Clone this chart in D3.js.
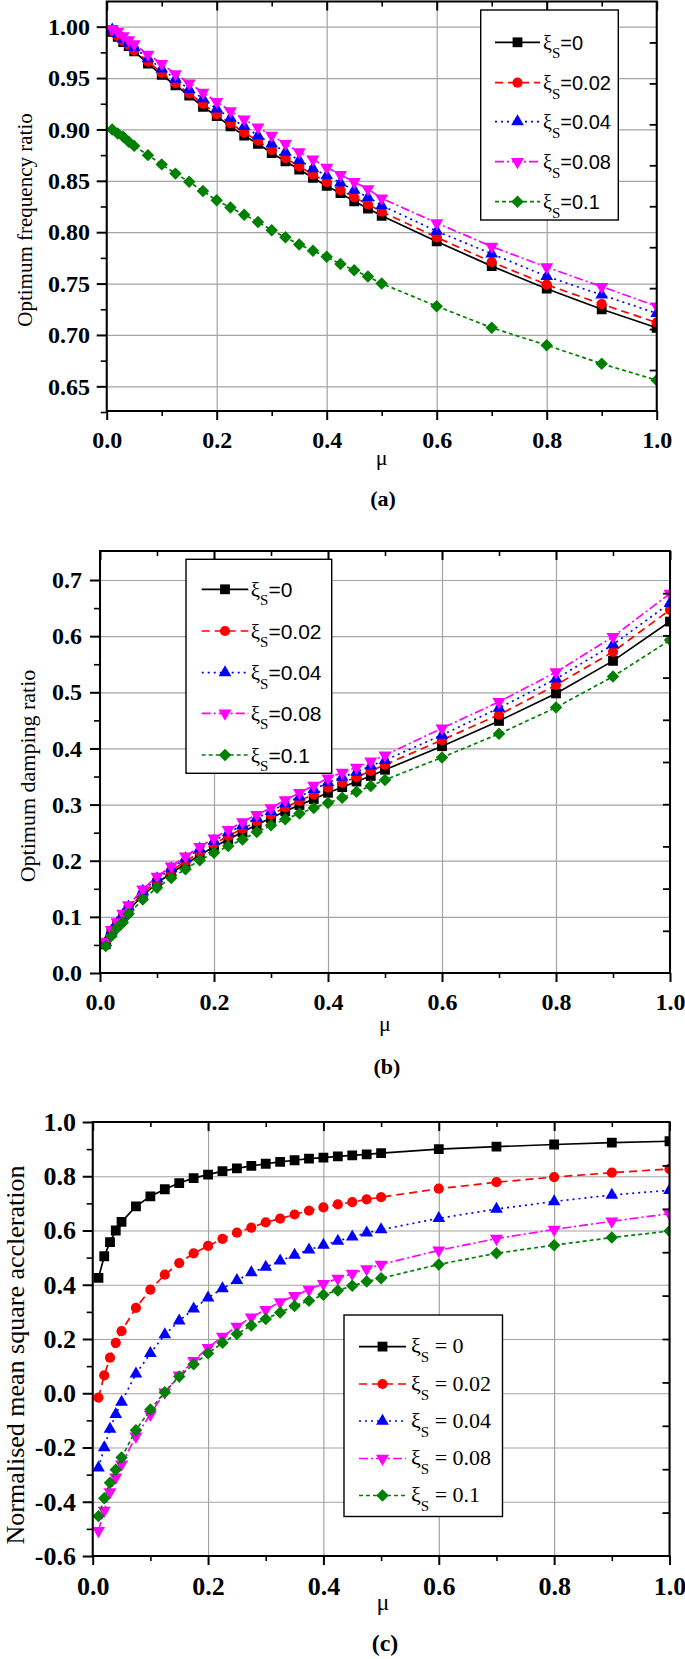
<!DOCTYPE html>
<html lang="en">
<head>
<meta charset="UTF-8">
<title>Optimum parameters vs mass ratio</title>
<style>
  body { margin: 0; background: #fff; }
  svg { display: block; }
  text { white-space: pre; }
</style>
</head>
<body>
<svg id="chart" width="685" height="1659"></svg>

<script src="https://d3js.org/d3.v7.min.js"></script>
<script>
// ---- data ----
const mu = [0.01, 0.02, 0.03, 0.04, 0.05, 0.075, 0.1, 0.125, 0.15, 0.175, 0.2, 0.225, 0.25, 0.275,
            0.3, 0.325, 0.35, 0.375, 0.4, 0.425, 0.45, 0.475, 0.5, 0.6, 0.7, 0.8, 0.9, 1.0];
const xiLabels = ['0', '0.02', '0.04', '0.08', '0.1'];

// (a) optimum frequency ratio
const freqXi0   = [0.995,0.990,0.985,0.981,0.976,0.964,0.953,0.943,0.933,0.922,0.913,0.903,0.894,0.886,0.877,0.869,0.861,0.853,0.845,0.838,0.830,0.823,0.816,0.791,0.767,0.745,0.725,0.707];
const freqXi002 = [0.996,0.991,0.986,0.982,0.977,0.966,0.955,0.945,0.935,0.925,0.915,0.906,0.897,0.889,0.880,0.872,0.864,0.856,0.849,0.841,0.834,0.827,0.820,0.795,0.771,0.749,0.730,0.712];
const freqXi004 = [0.997,0.993,0.988,0.984,0.980,0.969,0.959,0.949,0.939,0.930,0.920,0.911,0.903,0.894,0.886,0.878,0.870,0.862,0.855,0.848,0.841,0.834,0.826,0.801,0.779,0.757,0.739,0.721];
const freqXi008 = [0.998,0.995,0.991,0.987,0.983,0.973,0.964,0.954,0.945,0.936,0.927,0.918,0.910,0.902,0.894,0.886,0.878,0.871,0.863,0.856,0.849,0.842,0.833,0.809,0.786,0.766,0.747,0.728];
const freqXi01  = [0.900,0.896,0.893,0.888,0.884,0.875,0.866,0.857,0.849,0.840,0.831,0.824,0.817,0.810,0.802,0.795,0.788,0.782,0.776,0.769,0.763,0.757,0.750,0.728,0.707,0.690,0.672,0.656];

// (b) optimum damping ratio
const dampXi0   = [0.051,0.071,0.085,0.097,0.112,0.138,0.160,0.178,0.194,0.210,0.225,0.238,0.251,0.264,0.276,0.288,0.299,0.310,0.321,0.331,0.341,0.351,0.362,0.404,0.449,0.498,0.556,0.626];
const dampXi002 = [0.053,0.073,0.087,0.100,0.115,0.142,0.164,0.182,0.199,0.215,0.230,0.244,0.257,0.270,0.282,0.295,0.307,0.318,0.330,0.339,0.349,0.360,0.371,0.415,0.460,0.513,0.572,0.647];
const dampXi004 = [0.055,0.075,0.089,0.103,0.118,0.146,0.168,0.186,0.204,0.221,0.235,0.250,0.263,0.276,0.288,0.302,0.314,0.327,0.339,0.349,0.358,0.369,0.379,0.424,0.472,0.524,0.585,0.659];
const dampXi008 = [0.056,0.077,0.091,0.106,0.121,0.149,0.172,0.190,0.208,0.225,0.240,0.255,0.269,0.282,0.294,0.308,0.321,0.334,0.347,0.357,0.366,0.377,0.388,0.436,0.483,0.536,0.599,0.676];
const dampXi01  = [0.048,0.066,0.080,0.090,0.105,0.131,0.152,0.169,0.185,0.201,0.214,0.226,0.238,0.251,0.263,0.274,0.284,0.294,0.303,0.312,0.323,0.333,0.344,0.384,0.426,0.473,0.528,0.593];

// (c) normalised mean square acceleration
const accXi0   = [0.425,0.505,0.557,0.600,0.632,0.689,0.726,0.752,0.775,0.793,0.806,0.819,0.829,0.838,0.846,0.853,0.859,0.865,0.869,0.873,0.877,0.881,0.885,0.900,0.909,0.917,0.924,0.929];
const accXi002 = [-0.016,0.066,0.131,0.186,0.229,0.315,0.382,0.437,0.480,0.516,0.543,0.569,0.592,0.611,0.630,0.644,0.659,0.673,0.685,0.696,0.705,0.715,0.723,0.754,0.778,0.797,0.813,0.827];
const accXi004 = [-0.275,-0.200,-0.132,-0.078,-0.033,0.072,0.147,0.216,0.267,0.311,0.352,0.386,0.416,0.445,0.465,0.488,0.509,0.529,0.546,0.561,0.577,0.591,0.603,0.645,0.679,0.707,0.731,0.748];
const accXi008 = [-0.507,-0.432,-0.364,-0.310,-0.262,-0.159,-0.078,0.004,0.066,0.120,0.168,0.209,0.246,0.280,0.308,0.336,0.359,0.382,0.404,0.423,0.441,0.458,0.475,0.527,0.570,0.604,0.634,0.662];
const accXi01  = [-0.453,-0.387,-0.330,-0.282,-0.237,-0.136,-0.060,0.004,0.062,0.107,0.147,0.186,0.218,0.250,0.274,0.298,0.322,0.341,0.363,0.379,0.396,0.412,0.424,0.475,0.516,0.546,0.574,0.598];

// ticks
const xMajor = [0, 0.2, 0.4, 0.6, 0.8, 1.0];
const xMinor = [0.1, 0.3, 0.5, 0.7, 0.9];
const freqMajor = [0.65, 0.70, 0.75, 0.80, 0.85, 0.90, 0.95, 1.00];
const freqMinor = [0.625, 0.675, 0.725, 0.775, 0.825, 0.875, 0.925, 0.975];
const dampMajor = [0.0, 0.1, 0.2, 0.3, 0.4, 0.5, 0.6, 0.7];
const dampMinor = [0.05, 0.15, 0.25, 0.35, 0.45, 0.55, 0.65];
const accMajor = [-0.6, -0.4, -0.2, 0.0, 0.2, 0.4, 0.6, 0.8, 1.0];
const accMinor = [-0.5, -0.3, -0.1, 0.1, 0.3, 0.5, 0.7, 0.9];
const rightTicks = [1, 2, 3, 4, 5, 6, 7, 8, 9];   // the right axis has its own 10 divisions

// ---- styles ----
const SERIF = '"Liberation Serif", "Times New Roman", serif';
const SANS = '"Liberation Sans", Arial, sans-serif';
const GRID = '#a3a3a3';
const seriesStyle = [
    { color: '#000000', dash: null,      marker: 'square' },
    { color: '#ff0000', dash: '8,5',     marker: 'circle' },
    { color: '#0000ff', dash: '2,4',     marker: 'triangle' },
    { color: '#ff00ff', dash: '9,3,2,3', marker: 'triangleDown' },
    { color: '#008000', dash: '4,3',     marker: 'diamond' }
];

const svg = d3.select('#chart');
const defs = svg.append('defs');

function drawMarker(g, kind, cx, cy, color) {
    let type = d3.symbolSquare, size = 96, rot = 0;
    if (kind === 'circle') { type = d3.symbolCircle; size = 82; }
    if (kind === 'triangle') { type = d3.symbolTriangle; size = 70; }
    if (kind === 'triangleDown') { type = d3.symbolTriangle; size = 74; rot = 180; }
    if (kind === 'diamond') { type = d3.symbolSquare; size = 78; rot = 45; }
    g.append('path')
        .attr('d', d3.symbol().type(type).size(size)())
        .attr('transform', `translate(${cx},${cy}) rotate(${rot})`)
        .attr('fill', color);
}

function styleAxis(sel, fontSize, width) {
    sel.attr('font-family', SERIF).attr('font-size', fontSize).attr('font-weight', 'bold');
    sel.select('.domain').remove();
    sel.selectAll('line').attr('stroke', '#000').attr('stroke-width', width);
    sel.selectAll('text')
        .attr('fill', '#000')
        .style('font-family', SERIF)
        .style('font-weight', 'bold')
        .style('font-size', fontSize + 'px');
}

function drawPanel(p) {
    const g = svg.append('g');
    const x = d3.scaleLinear().domain([0, 1]).range([p.left, p.right]);
    const y = d3.scaleLinear().domain(p.yDomain).range([p.bottom, p.top]);
    const w = p.right - p.left, h = p.bottom - p.top;

    // grid
    g.append('g').attr('transform', `translate(0,${p.bottom})`)
        .call(d3.axisBottom(x).tickValues(xMajor).tickSize(-h).tickFormat(''))
        .call(a => a.select('.domain').remove())
        .selectAll('line').attr('stroke', GRID).attr('stroke-width', 1.2);
    g.append('g').attr('transform', `translate(${p.left},0)`)
        .call(d3.axisLeft(y).tickValues(p.yMajor).tickSize(-w).tickFormat(''))
        .call(a => a.select('.domain').remove())
        .selectAll('line').attr('stroke', GRID).attr('stroke-width', 1.2);

    // series
    defs.append('clipPath').attr('id', 'clip-' + p.id)
        .append('rect').attr('x', p.left).attr('y', p.top).attr('width', w).attr('height', h);
    const plot = g.append('g').attr('clip-path', `url(#clip-${p.id})`);
    const line = d3.line().x(d => x(d[0])).y(d => y(d[1]));
    p.series.forEach((vals, i) => {
        const s = seriesStyle[i];
        const pts = d3.zip(mu, vals);
        plot.append('path')
            .attr('d', line(pts))
            .attr('fill', 'none')
            .attr('stroke', s.color)
            .attr('stroke-width', 1.7)
            .attr('stroke-dasharray', s.dash);
        const mg = plot.append('g');
        pts.forEach(d => drawMarker(mg, s.marker, x(d[0]), y(d[1]), s.color));
    });

    // frame
    g.append('rect')
        .attr('x', p.left).attr('y', p.top).attr('width', w).attr('height', h)
        .attr('fill', 'none').attr('stroke', '#000').attr('stroke-width', 2);

    // bottom axis
    g.append('g').attr('transform', `translate(0,${p.bottom})`)
        .call(d3.axisBottom(x).tickValues(xMajor).tickSize(9).tickPadding(p.xPad)
            .tickFormat(d => d.toFixed(1)))
        .call(a => styleAxis(a, p.tickFont, 2));
    g.append('g').attr('transform', `translate(0,${p.bottom})`)
        .call(d3.axisBottom(x).tickValues(xMinor).tickSize(5).tickFormat(''))
        .call(a => styleAxis(a, p.tickFont, 1.6));
    // top axis (inward ticks)
    g.append('g').attr('transform', `translate(0,${p.top})`)
        .call(d3.axisTop(x).tickValues(xMajor).tickSize(-9).tickFormat(''))
        .call(a => styleAxis(a, p.tickFont, 2));
    g.append('g').attr('transform', `translate(0,${p.top})`)
        .call(d3.axisTop(x).tickValues(xMinor).tickSize(-5).tickFormat(''))
        .call(a => styleAxis(a, p.tickFont, 1.6));
    // left axis
    g.append('g').attr('transform', `translate(${p.left},0)`)
        .call(d3.axisLeft(y).tickValues(p.yMajor).tickSize(10).tickPadding(p.yPad)
            .tickFormat(d => d.toFixed(p.yDigits)))
        .call(a => styleAxis(a, p.tickFont, 2));
    g.append('g').attr('transform', `translate(${p.left},0)`)
        .call(d3.axisLeft(y).tickValues(p.yMinor).tickSize(6).tickFormat(''))
        .call(a => styleAxis(a, p.tickFont, 1.6));
    // right axis (inward ticks on its own scale)
    const r = d3.scaleLinear().domain([0, 10]).range([p.bottom, p.top]);
    g.append('g').attr('transform', `translate(${p.right},0)`)
        .call(d3.axisRight(r).tickValues(rightTicks).tickSize(-7).tickFormat(''))
        .call(a => styleAxis(a, p.tickFont, 1.8));

    // titles
    g.append('text')
        .attr('transform', `translate(${p.yTitleX},${p.yTitleY}) rotate(-90)`)
        .attr('text-anchor', 'middle')
        .attr('font-family', SERIF).attr('font-size', p.yTitleSize)
        .text(p.yTitle);
    g.append('text')
        .attr('x', p.muX).attr('y', p.muY)
        .attr('text-anchor', 'middle')
        .attr('font-family', SERIF).attr('font-size', p.muSize)
        .text('\u03bc');
    g.append('text')
        .attr('x', p.tagX).attr('y', p.tagY)
        .attr('text-anchor', 'middle')
        .attr('font-family', SERIF).attr('font-weight', 'bold').attr('font-size', p.tagSize)
        .text(p.tag);

    // legend
    const L = p.legend;
    const lg = g.append('g');
    lg.append('rect')
        .attr('x', L.x0).attr('y', L.y0).attr('width', L.x1 - L.x0).attr('height', L.y1 - L.y0)
        .attr('fill', '#fff').attr('stroke', '#000').attr('stroke-width', 1.4);
    L.rows.forEach((ry, i) => {
        const s = seriesStyle[i];
        lg.append('line')
            .attr('x1', L.lineX0).attr('x2', L.lineX1).attr('y1', ry).attr('y2', ry)
            .attr('stroke', s.color).attr('stroke-width', 1.7)
            .attr('stroke-dasharray', s.dash);
        drawMarker(lg, s.marker, (L.lineX0 + L.lineX1) / 2, ry, s.color);
        const t = lg.append('text').attr('x', L.textX).attr('y', ry + L.baseOff).attr('fill', '#000');
        t.append('tspan').attr('font-family', SERIF).attr('font-size', L.xiSize).text('\u03be');
        t.append('tspan').attr('font-family', SERIF).attr('font-size', L.subSize)
            .attr('dy', L.subDy).text('S');
        t.append('tspan').attr('font-family', L.valueFont).attr('font-size', L.fontSize)
            .attr('dy', -L.subDy).text(L.sep + xiLabels[i]);
    });
}

drawPanel({
    id: 'a', left: 106.7, right: 656.7, top: 1.5, bottom: 411,
    yDomain: [0.626, 1.0245], yMajor: freqMajor, yMinor: freqMinor, yDigits: 2,
    series: [freqXi0, freqXi002, freqXi004, freqXi008, freqXi01],
    tickFont: 24, xPad: 11, yPad: 6.7,
    yTitle: 'Optimum frequency ratio', yTitleX: 32, yTitleY: 220, yTitleSize: 21,
    muX: 381.7, muY: 465, muSize: 22,
    tag: '(a)', tagX: 383, tagY: 506, tagSize: 22,
    legend: { x0: 480.7, x1: 618.3, y0: 10, y1: 220, rows: [42.3, 82.7, 121.7, 161.7, 201.7],
              lineX0: 495, lineX1: 540, textX: 543, baseOff: 7.5, subDy: 8.5,
              xiSize: 20, subSize: 15, fontSize: 20, valueFont: SANS, sep: '=' }
});

drawPanel({
    id: 'b', left: 100, right: 670, top: 551, bottom: 973,
    yDomain: [0, 0.7517], yMajor: dampMajor, yMinor: dampMinor, yDigits: 1,
    series: [dampXi0, dampXi002, dampXi004, dampXi008, dampXi01],
    tickFont: 24, xPad: 11, yPad: 8,
    yTitle: 'Optimum damping ratio', yTitleX: 34.5, yTitleY: 776, yTitleSize: 22,
    muX: 385, muY: 1031, muSize: 22,
    tag: '(b)', tagX: 387, tagY: 1074, tagSize: 22,
    legend: { x0: 186, x1: 331.7, y0: 559.3, y1: 773.3, rows: [589.3, 631, 672.7, 713.3, 755],
              lineX0: 201.7, lineX1: 248.3, textX: 250.7, baseOff: 7.5, subDy: 8.5,
              xiSize: 21, subSize: 15, fontSize: 21, valueFont: SANS, sep: '=' }
});

drawPanel({
    id: 'c', left: 92.7, right: 669.5, top: 1122, bottom: 1556,
    yDomain: [-0.6, 1.0], yMajor: accMajor, yMinor: accMinor, yDigits: 1,
    series: [accXi0, accXi002, accXi004, accXi008, accXi01],
    tickFont: 26, xPad: 11.5, yPad: 6.7,
    yTitle: 'Normalised mean square accleration', yTitleX: 23.5, yTitleY: 1355, yTitleSize: 26,
    muX: 383, muY: 1610, muSize: 24,
    tag: '(c)', tagX: 385, tagY: 1651, tagSize: 24,
    legend: { x0: 344, x1: 502.5, y0: 1315, y1: 1516.5, rows: [1346.6, 1384, 1421, 1458.5, 1495.5],
              lineX0: 359, lineX1: 406, textX: 411, baseOff: 6.7, subDy: 9,
              xiSize: 22, subSize: 15, fontSize: 22, valueFont: SERIF, sep: ' = ' }
});
</script>
</body>
</html>
